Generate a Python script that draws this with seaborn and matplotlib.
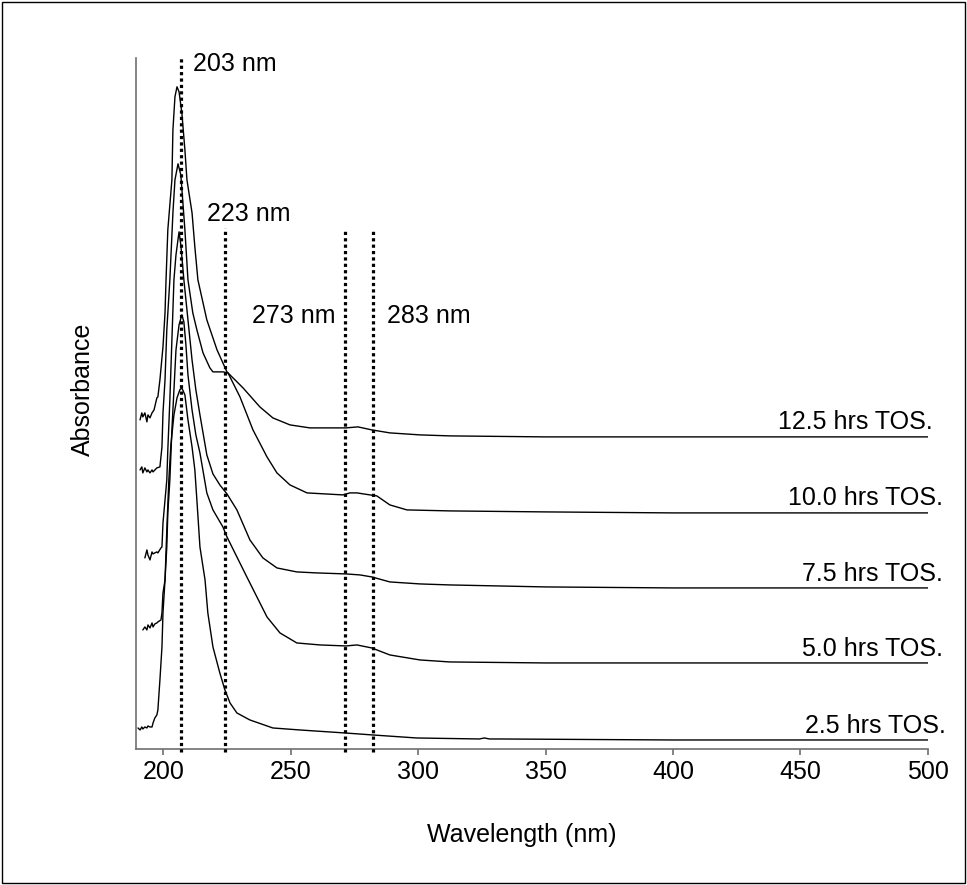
import matplotlib
matplotlib.use("Agg")
import matplotlib.pyplot as plt
from matplotlib.patches import Rectangle
import seaborn as sns
import pandas as pd

# UV-Vis spectra recorded at increasing time on stream (TOS), stacked vertically.
# Wavelengths (nm) and offset absorbance (arb. units) for each trace.
labels = ["2.5 hrs TOS.", "5.0 hrs TOS.", "7.5 hrs TOS.", "10.0 hrs TOS.", "12.5 hrs TOS."]

wl_2_5 = [190.1, 190.9, 191.6, 192.0, 192.8, 193.6, 194.0, 194.8, 195.6, 196.0, 196.7, 197.5,
          197.9, 198.7, 199.5, 199.9, 200.7, 201.4, 202.2, 203.0, 204.2, 205.4, 206.5, 207.3,
          208.5, 209.7, 211.3, 212.4, 213.2, 214.4, 216.4, 217.5, 219.5, 222.2, 224.2, 226.2,
          228.9, 234.0, 243.0, 253.6, 271.3, 282.2, 299.4, 324.0, 326.0, 328.0, 332.0, 400.0,
          450.0, 500.0]
ab_2_5 = [0.21, 0.19, 0.22, 0.20, 0.22, 0.21, 0.23, 0.22, 0.22, 0.26, 0.31, 0.34,
          0.39, 0.69, 1.02, 1.36, 1.69, 2.19, 2.69, 3.04, 3.34, 3.51, 3.59, 3.61,
          3.54, 3.29, 3.02, 2.79, 2.49, 2.02, 1.69, 1.36, 1.02, 0.76, 0.59, 0.46,
          0.36, 0.29, 0.21, 0.19, 0.16, 0.14, 0.11, 0.10, 0.11, 0.10, 0.10, 0.09,
          0.09, 0.09]

wl_5_0 = [192.0, 192.8, 193.6, 194.0, 194.8, 195.6, 196.0, 196.7, 197.5, 197.9, 199.1, 199.5,
          199.9, 200.7, 201.4, 201.8, 202.6, 203.4, 204.2, 205.0, 206.2, 207.3, 208.1, 208.9,
          209.7, 211.3, 212.8, 214.4, 217.1, 219.5, 223.4, 225.0, 232.8, 240.7, 245.8, 252.4,
          261.5, 271.7, 276.0, 281.8, 288.9, 300.7, 312.4, 350.0, 400.0, 450.0, 500.0]
ab_5_0 = [1.19, 1.22, 1.19, 1.24, 1.21, 1.26, 1.22, 1.25, 1.26, 1.27, 1.29, 1.36,
          1.56, 1.69, 2.02, 2.36, 2.69, 3.19, 3.59, 3.99, 4.24, 4.34, 4.27, 4.04,
          3.74, 3.39, 3.14, 2.96, 2.56, 2.39, 2.22, 2.12, 1.72, 1.32, 1.16, 1.06,
          1.04, 1.03, 1.04, 1.01, 0.94, 0.89, 0.87, 0.86, 0.86, 0.86, 0.86]

wl_7_5 = [192.8, 193.6, 194.0, 194.8, 195.6, 196.0, 196.7, 197.5, 197.9, 199.1, 199.5, 199.9,
          200.7, 201.4, 201.8, 202.6, 203.4, 204.2, 205.0, 206.2, 206.9, 208.1, 209.7, 211.3,
          212.8, 214.4, 217.1, 219.5, 222.2, 225.0, 228.9, 234.0, 239.1, 244.6, 252.4, 260.3,
          271.7, 277.2, 281.8, 288.9, 300.7, 312.4, 350.0, 400.0, 450.0, 500.0]
ab_7_5 = [1.91, 1.99, 1.94, 1.89, 1.97, 1.95, 1.96, 1.97, 1.96, 2.01, 2.02, 2.26,
          2.49, 2.69, 2.99, 3.49, 4.09, 4.69, 4.94, 5.17, 5.04, 4.69, 4.29, 3.89,
          3.59, 3.34, 2.94, 2.75, 2.64, 2.55, 2.39, 2.09, 1.91, 1.81, 1.77, 1.76,
          1.75, 1.74, 1.72, 1.67, 1.65, 1.64, 1.62, 1.61, 1.61, 1.61]

wl_10_0 = [190.9, 191.6, 192.0, 192.8, 193.6, 194.0, 194.8, 195.6, 196.0, 197.5, 198.7, 199.5,
           199.9, 200.7, 201.4, 202.6, 203.8, 204.6, 205.8, 206.9, 208.5, 209.7, 211.6, 213.2,
           215.6, 218.3, 219.5, 223.4, 225.4, 230.1, 235.2, 240.7, 244.6, 249.7, 256.4, 270.5,
           273.2, 276.0, 281.1, 283.8, 288.9, 295.6, 312.4, 350.0, 400.0, 450.0, 500.0]
ab_10_0 = [2.79, 2.82, 2.76, 2.81, 2.77, 2.79, 2.76, 2.79, 2.77, 2.81, 2.82, 3.02,
           3.36, 3.69, 4.19, 4.69, 5.36, 5.69, 5.85, 5.74, 5.19, 4.69, 4.36, 4.19,
           3.96, 3.81, 3.77, 3.77, 3.76, 3.52, 3.19, 2.92, 2.76, 2.64, 2.56, 2.54,
           2.56, 2.56, 2.54, 2.53, 2.44, 2.39, 2.38, 2.37, 2.36, 2.36, 2.36]

wl_12_5 = [190.9, 191.6, 192.0, 192.8, 193.6, 194.0, 194.8, 195.6, 196.4, 197.5, 197.9, 198.7,
           199.9, 200.7, 201.1, 201.8, 203.4, 203.8, 204.6, 205.4, 206.2, 207.3, 208.5, 209.3,
           211.3, 212.4, 213.6, 217.1, 221.1, 225.0, 231.3, 237.9, 243.0, 249.7, 257.5, 271.7,
           276.4, 281.8, 288.9, 300.7, 312.4, 350.0, 400.0, 450.0, 500.0]
ab_12_5 = [3.29, 3.36, 3.32, 3.36, 3.27, 3.34, 3.31, 3.36, 3.39, 3.51, 3.52, 3.69,
           4.02, 4.36, 4.69, 5.19, 5.69, 6.19, 6.52, 6.62, 6.57, 6.36, 5.99, 5.69,
           5.36, 5.02, 4.69, 4.29, 3.99, 3.77, 3.61, 3.42, 3.31, 3.24, 3.21, 3.21,
           3.22, 3.19, 3.16, 3.14, 3.13, 3.12, 3.12, 3.12, 3.12]

# Label anchor heights for each trace (same units as the traces)
label_y = [0.23, 1.00, 1.75, 2.51, 3.27]
label_x = [507.0, 506.0, 506.0, 506.0, 502.0]

# Marked band positions: where the guide line is drawn, its label and where it starts
band_pos = [206.9, 224.3, 271.5, 282.1]
band_top = [6.91, 5.21, 5.20, 5.20]
band_text = ["203 nm", "223 nm", "273 nm", "283 nm"]
band_text_xy = [(211.6, 6.85), (217.1, 5.35), (234.8, 4.33), (287.7, 4.33)]

x_ticks = [200, 250, 300, 350, 400, 450, 500]

sns.set_style("white")
plt.rcParams["font.family"] = ["Liberation Sans", "DejaVu Sans"]
plt.rcParams["text.color"] = "black"
plt.rcParams["axes.labelcolor"] = "black"
plt.rcParams["xtick.color"] = "black"

FS = 18

fig = plt.figure(figsize=(9.67, 8.85), dpi=100)
ax = fig.add_axes([0.1406, 0.1537, 0.819, 0.781])

traces = [(wl_2_5, ab_2_5), (wl_5_0, ab_5_0), (wl_7_5, ab_7_5),
          (wl_10_0, ab_10_0), (wl_12_5, ab_12_5)]
frames = []
for name, (wl, ab) in zip(labels, traces):
    frames.append(pd.DataFrame({"wavelength": wl, "absorbance": ab, "trace": name}))
df = pd.concat(frames, ignore_index=True)

for name in labels:
    sub = df[df["trace"] == name]
    sns.lineplot(data=sub, x="wavelength", y="absorbance", ax=ax, color="black",
                 lw=1.0, sort=False, estimator=None, legend=False)

for name, lx, ly in zip(labels, label_x, label_y):
    ax.text(lx, ly, name, ha="right", va="center", fontsize=FS, color="black",
            clip_on=False)

for pos, top in zip(band_pos, band_top):
    ax.plot([pos, pos], [-0.03, top], color="black", lw=2.3,
            linestyle=(0, (1, 1)), clip_on=False, zorder=3)
for txt, (tx, ty) in zip(band_text, band_text_xy):
    ax.text(tx, ty, txt, ha="left", va="center", fontsize=FS, color="black",
            clip_on=False)

ax.set_xlim(189.3, 500)
ax.set_ylim(0, 6.91)
ax.set_xticks(x_ticks)
ax.set_yticks([])
ax.tick_params(axis="x", direction="out", length=4, width=1.2, color="#707070",
               labelcolor="black", labelsize=FS, pad=4, bottom=True)
for side in ["top", "right"]:
    ax.spines[side].set_visible(False)
for side in ["left", "bottom"]:
    ax.spines[side].set_color("#707070")
    ax.spines[side].set_linewidth(1.2)

ax.set_xlabel("Wavelength (nm)", fontsize=FS, color="black")
ax.set_ylabel("Absorbance", fontsize=FS, color="black")
ax.xaxis.label.set_va("center")
ax.yaxis.label.set_va("center")
ax.xaxis.set_label_coords(0.487, -0.1245)
ax.yaxis.set_label_coords(-0.067, 0.52)

fig.patches.append(Rectangle((0.002, 0.002), 0.996, 0.996, transform=fig.transFigure,
                             fill=False, edgecolor="black", lw=1.0))

fig.savefig("out.png", dpi=100)
